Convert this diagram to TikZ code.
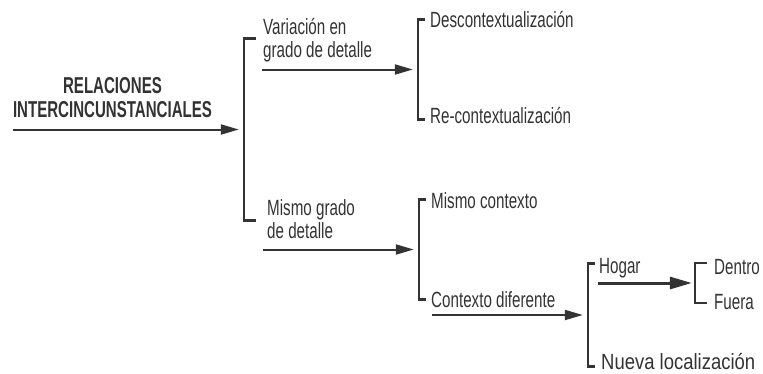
\documentclass[tikz,border=0pt]{standalone}
\usepackage{fontspec}
\setmainfont{Liberation Sans}
\newfontfamily\regfont[FakeStretch=0.69]{Liberation Sans}
\newfontfamily\widefont[FakeStretch=0.84]{Liberation Sans}
\newfontfamily\ttlfont[FakeStretch=0.655]{Liberation Sans}
\usetikzlibrary{arrows.meta,calc}
\definecolor{ink}{HTML}{333333}
\begin{document}
\begin{tikzpicture}[x=1pt,y=-1pt,
  lbl/.style={inner sep=0pt, text depth=0pt, anchor=south west, align=left, text=ink,
    font=\regfont\fontsize{22}{23}\selectfont},
  ttl/.style={inner sep=0pt, text depth=0pt, anchor=south, align=center, text=ink,
    font=\ttlfont\bfseries\fontsize{23}{24}\selectfont},
  brk/.style={inner sep=0pt, draw=none},
  arr/.style={draw=ink, line width=2pt, -{Triangle[length=18pt,width=10pt]}, shorten >=5pt},
  vline/.style={draw=ink, line width=2pt, line join=miter},
  tick/.style={draw=ink, line width=3pt},
]
\useasboundingbox (0,0) rectangle (763,373);

% brackets
\node[brk, minimum width=12pt, minimum height=181pt] (B1) at (250,129.5) {};
\node[brk, minimum width=7pt, minimum height=100pt] (B2) at (421.5,69.5) {};
\node[brk, minimum width=7pt, minimum height=99pt] (B3) at (422.5,249.5) {};
\node[brk, minimum width=7pt, minimum height=102pt] (B4) at (591.5,315) {};
\node[brk, minimum width=12pt, minimum height=39pt] (B5) at (701,283) {};

\foreach \b in {B1,B2,B3,B4}{
  \draw[vline] (\b.north west) -- (\b.south west);
  \draw[tick] ([xshift=-1pt]\b.north west) -- (\b.north east);
  \draw[tick] ([xshift=-1pt]\b.south west) -- (\b.south east);
}
\draw[vline] (B5.north east) -- (B5.north west) -- (B5.south west) -- (B5.south east);

% texts
\node[ttl] (root) at (112.5,118) {RELACIONES\\INTERCINCUNSTANCIALES};
\node[lbl] (v1) at (263,58) {Variación en\\grado de detalle};
\node[lbl] (m1) at (267,239) {Mismo grado\\de detalle};
\node[lbl] (d1) at (430,28) {Descontextualización};
\node[lbl] (r1) at (430,124) {Re-contextualización};
\node[lbl] (mc) at (431,209) {Mismo contexto};
\node[lbl] (cd) at (431,308) {Contexto diferente};
\node[lbl] (h) at (599,274) {Hogar};
\node[lbl, font=\widefont\fontsize{22}{23}\selectfont] (nl) at (601,370) {Nueva localización};
\node[lbl] (de) at (714,275) {Dentro};
\node[lbl] (fu) at (714,310) {Fuera};

% arrows
\draw[arr] (root.south west |- B1.west) -- (B1.west);
\draw[arr] ($(v1.south west |- B2.west)+(-1,0)$) -- (B2.west);
\draw[arr] ($(m1.south west |- B3.west)+(-4,0)$) -- (B3.west);
\draw[arr] ($(cd.south west |- B4.west)+(1,0)$) -- (B4.west);
\draw[arr, line width=3pt, shorten >=3pt, -{Triangle[length=22pt,width=12pt]}]
  ($(h.south west |- B5.west)+(-1,0)$) -- (B5.west);
\end{tikzpicture}
\end{document}
